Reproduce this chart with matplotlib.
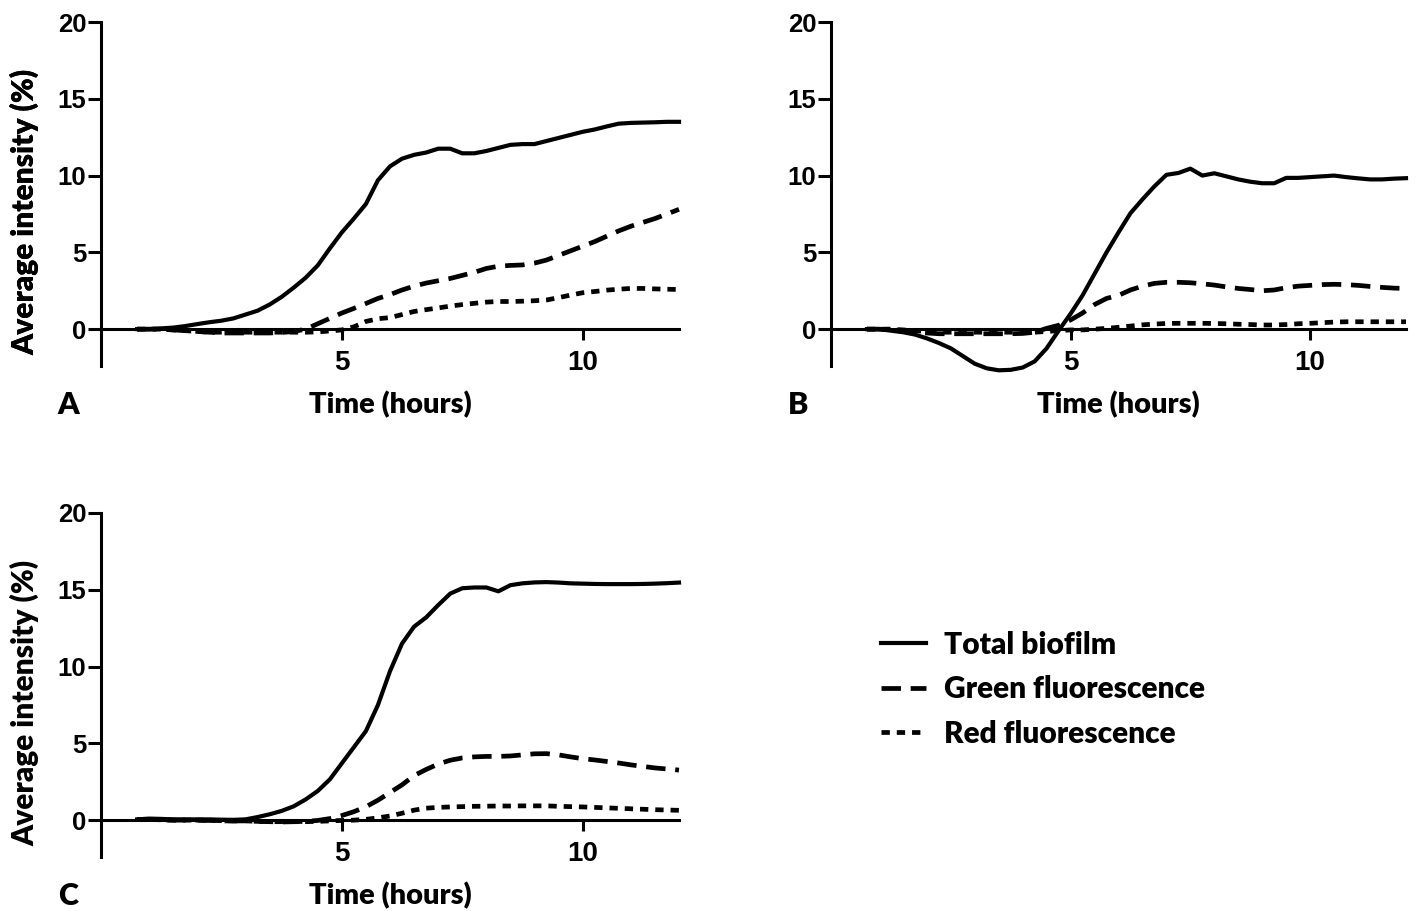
import numpy as np
import matplotlib
matplotlib.use("Agg")
import matplotlib.pyplot as plt

# time axis (hours)
hours = [0.75, 1.0, 1.25, 1.5, 1.75, 2.0, 2.25, 2.5, 2.75, 3.0, 3.25, 3.5, 3.75,
         4.0, 4.25, 4.5, 4.75, 5.0, 5.25, 5.5, 5.75, 6.0, 6.25, 6.5, 6.75, 7.0,
         7.25, 7.5, 7.75, 8.0, 8.25, 8.5, 8.75, 9.0, 9.25, 9.5, 9.75, 10.0,
         10.25, 10.5, 10.75, 11.0, 11.25, 11.5, 11.75, 12.0]

# panel A
a_total = [0.0, 0.0, 0.05, 0.1, 0.2, 0.33, 0.45, 0.55, 0.7, 0.95, 1.2, 1.6, 2.1,
           2.7, 3.35, 4.15, 5.25, 6.3, 7.2, 8.15, 9.7, 10.6, 11.1, 11.35, 11.5, 11.75,
           11.75, 11.45, 11.45, 11.6, 11.8, 12.0, 12.05, 12.05, 12.25, 12.45, 12.65, 12.85,
           13.0, 13.2, 13.38, 13.43, 13.45, 13.47, 13.5, 13.5]
a_green = [0.0, 0.0, 0.0, -0.05, -0.1, -0.15, -0.2, -0.25, -0.25, -0.25, -0.25, -0.25, -0.22,
           -0.15, 0.0, 0.35, 0.7, 1.05, 1.35, 1.67, 2.0, 2.25, 2.55, 2.8, 3.0, 3.15,
           3.3, 3.5, 3.7, 3.95, 4.1, 4.15, 4.18, 4.3, 4.5, 4.8, 5.1, 5.4,
           5.7, 6.05, 6.4, 6.7, 6.95, 7.2, 7.5, 7.8]
a_red = [0.0, 0.0, 0.0, -0.05, -0.1, -0.15, -0.2, -0.2, -0.2, -0.2, -0.2, -0.2, -0.2,
         -0.2, -0.2, -0.18, -0.12, -0.05, 0.15, 0.5, 0.68, 0.75, 0.95, 1.15, 1.27, 1.38,
         1.5, 1.6, 1.68, 1.76, 1.8, 1.8, 1.82, 1.85, 1.9, 2.05, 2.22, 2.37,
         2.45, 2.54, 2.6, 2.65, 2.65, 2.62, 2.6, 2.58]

# panel B
b_total = [0.0, 0.0, -0.1, -0.2, -0.35, -0.6, -0.9, -1.25, -1.75, -2.25, -2.55, -2.68, -2.65,
           -2.5, -2.1, -1.25, -0.1, 1.0, 2.2, 3.6, 5.0, 6.3, 7.55, 8.45, 9.3, 10.05,
           10.17, 10.45, 10.0, 10.15, 9.95, 9.75, 9.6, 9.5, 9.5, 9.85, 9.85, 9.9,
           9.95, 10.0, 9.9, 9.82, 9.75, 9.75, 9.8, 9.83]
b_green = [0.0, 0.0, -0.05, -0.1, -0.2, -0.25, -0.3, -0.3, -0.3, -0.3, -0.3, -0.3, -0.3,
           -0.28, -0.2, 0.05, 0.25, 0.6, 1.05, 1.6, 2.0, 2.2, 2.55, 2.8, 2.98, 3.05,
           3.05, 3.02, 2.95, 2.87, 2.75, 2.65, 2.58, 2.5, 2.55, 2.7, 2.8, 2.85,
           2.9, 2.92, 2.9, 2.85, 2.78, 2.72, 2.67, 2.65]
b_red = [0.0, 0.0, 0.0, -0.05, -0.1, -0.15, -0.2, -0.2, -0.2, -0.2, -0.2, -0.2, -0.2,
         -0.2, -0.2, -0.15, -0.1, -0.05, -0.05, 0.0, 0.05, 0.12, 0.2, 0.28, 0.33, 0.37,
         0.38, 0.38, 0.38, 0.37, 0.35, 0.32, 0.3, 0.27, 0.27, 0.3, 0.35, 0.38,
         0.42, 0.46, 0.48, 0.48, 0.48, 0.48, 0.48, 0.48]

# panel C
c_total = [0.05, 0.1, 0.08, 0.05, 0.05, 0.05, 0.05, 0.03, 0.02, 0.05, 0.2, 0.38, 0.6,
           0.9, 1.35, 1.9, 2.65, 3.7, 4.75, 5.8, 7.5, 9.7, 11.5, 12.6, 13.2, 14.0,
           14.75, 15.1, 15.15, 15.15, 14.9, 15.3, 15.42, 15.48, 15.5, 15.47, 15.42, 15.4,
           15.38, 15.37, 15.37, 15.37, 15.38, 15.4, 15.43, 15.47]
c_green = [0.05, 0.05, 0.02, 0.0, 0.0, 0.0, -0.02, -0.05, -0.05, -0.05, -0.08, -0.1, -0.12,
           -0.1, -0.08, -0.02, 0.1, 0.3, 0.55, 0.87, 1.3, 1.8, 2.3, 2.9, 3.3, 3.65,
           3.9, 4.05, 4.12, 4.15, 4.15, 4.18, 4.25, 4.32, 4.33, 4.25, 4.12, 4.0,
           3.92, 3.82, 3.72, 3.6, 3.5, 3.4, 3.33, 3.26]
c_red = [0.05, 0.05, 0.02, 0.0, 0.0, 0.0, -0.02, -0.03, -0.05, -0.05, -0.08, -0.1, -0.1,
         -0.1, -0.1, -0.08, -0.05, -0.02, 0.0, 0.05, 0.15, 0.27, 0.45, 0.65, 0.78, 0.83,
         0.86, 0.88, 0.9, 0.91, 0.92, 0.92, 0.93, 0.93, 0.93, 0.9, 0.88, 0.86,
         0.83, 0.8, 0.77, 0.74, 0.71, 0.68, 0.66, 0.64]

series_names = ['Total biofilm', 'Green fluorescence', 'Red fluorescence']
x_ticks = [5, 10]
y_ticks = [0, 5, 10, 15, 20]

plt.rcParams['lines.scale_dashes'] = False
TEXT_FONT = ['Lato', 'DejaVu Sans']
TEXT_WEIGHT = 'heavy'
TICK_FONT = ['Liberation Sans', 'DejaVu Sans']

W, H = 1416, 911


def px_box(left, top, right, bottom):
    return [left / W, 1 - bottom / H, (right - left) / W, (bottom - top) / H]


def draw_panel(ax, total, green, red):
    l1, = ax.plot(hours, total, color='black', lw=3.0, clip_on=False)
    l2, = ax.plot(hours, green, color='black', lw=3.4, dashes=(14, 7), clip_on=False)
    l3, = ax.plot(hours, red, color='black', lw=3.4, dashes=(6, 5), clip_on=False)

    ax.set_xlim(0, 12)
    ax.set_ylim(-2.4, 20)
    for side in ['top', 'right']:
        ax.spines[side].set_visible(False)
    ax.spines['bottom'].set_position(('data', 0))
    for side in ['left', 'bottom']:
        ax.spines[side].set_linewidth(2.2)

    ax.set_xticks(x_ticks)
    ax.set_yticks(y_ticks)
    ax.tick_params(axis='x', length=8, width=2.2, pad=7, labelsize=20)
    ax.tick_params(axis='y', length=9.5, width=2.2, pad=1, labelsize=18.5)
    for lab in ax.get_xticklabels() + ax.get_yticklabels():
        lab.set_family(TICK_FONT)
        lab.set_fontweight('bold')
    return [l1, l2, l3]


fig = plt.figure(figsize=(W / 100, H / 100), dpi=100)

panels = [
    ('A', (101, 22, 679, 366), a_total, a_green, a_red),
    ('B', (831, 22, 1406, 366), b_total, b_green, b_red),
    ('C', (101, 513, 679, 857), c_total, c_green, c_red),
]

for letter, box, total, green, red in panels:
    left, top, right, bottom = box
    ax = fig.add_axes(px_box(left, top, right, bottom))
    handles = draw_panel(ax, total, green, red)

    fig.text(25 / W, 1 - (top + 190) / H, 'Average intensity (%)', rotation=90,
             ha='center', va='center', fontsize=21.5, fontweight=TEXT_WEIGHT, family=TEXT_FONT)
    fig.text((left + right) / 2 / W, 1 - (bottom + 39) / H, 'Time (hours)',
             ha='center', va='center', fontsize=21, fontweight=TEXT_WEIGHT, family=TEXT_FONT)
    fig.text((left - 33) / W, 1 - (bottom + 39) / H, letter,
             ha='center', va='center', fontsize=22, fontweight=TEXT_WEIGHT, family=TEXT_FONT)

leg = fig.legend(handles, series_names, loc='upper left',
                 bbox_to_anchor=(854 / W, 1 - 604 / H), frameon=False,
                 handlelength=1.5, handletextpad=0.6, labelspacing=0.55,
                 prop={'family': TEXT_FONT, 'weight': TEXT_WEIGHT, 'size': 21.5})

fig.savefig('out.png', dpi=100)
